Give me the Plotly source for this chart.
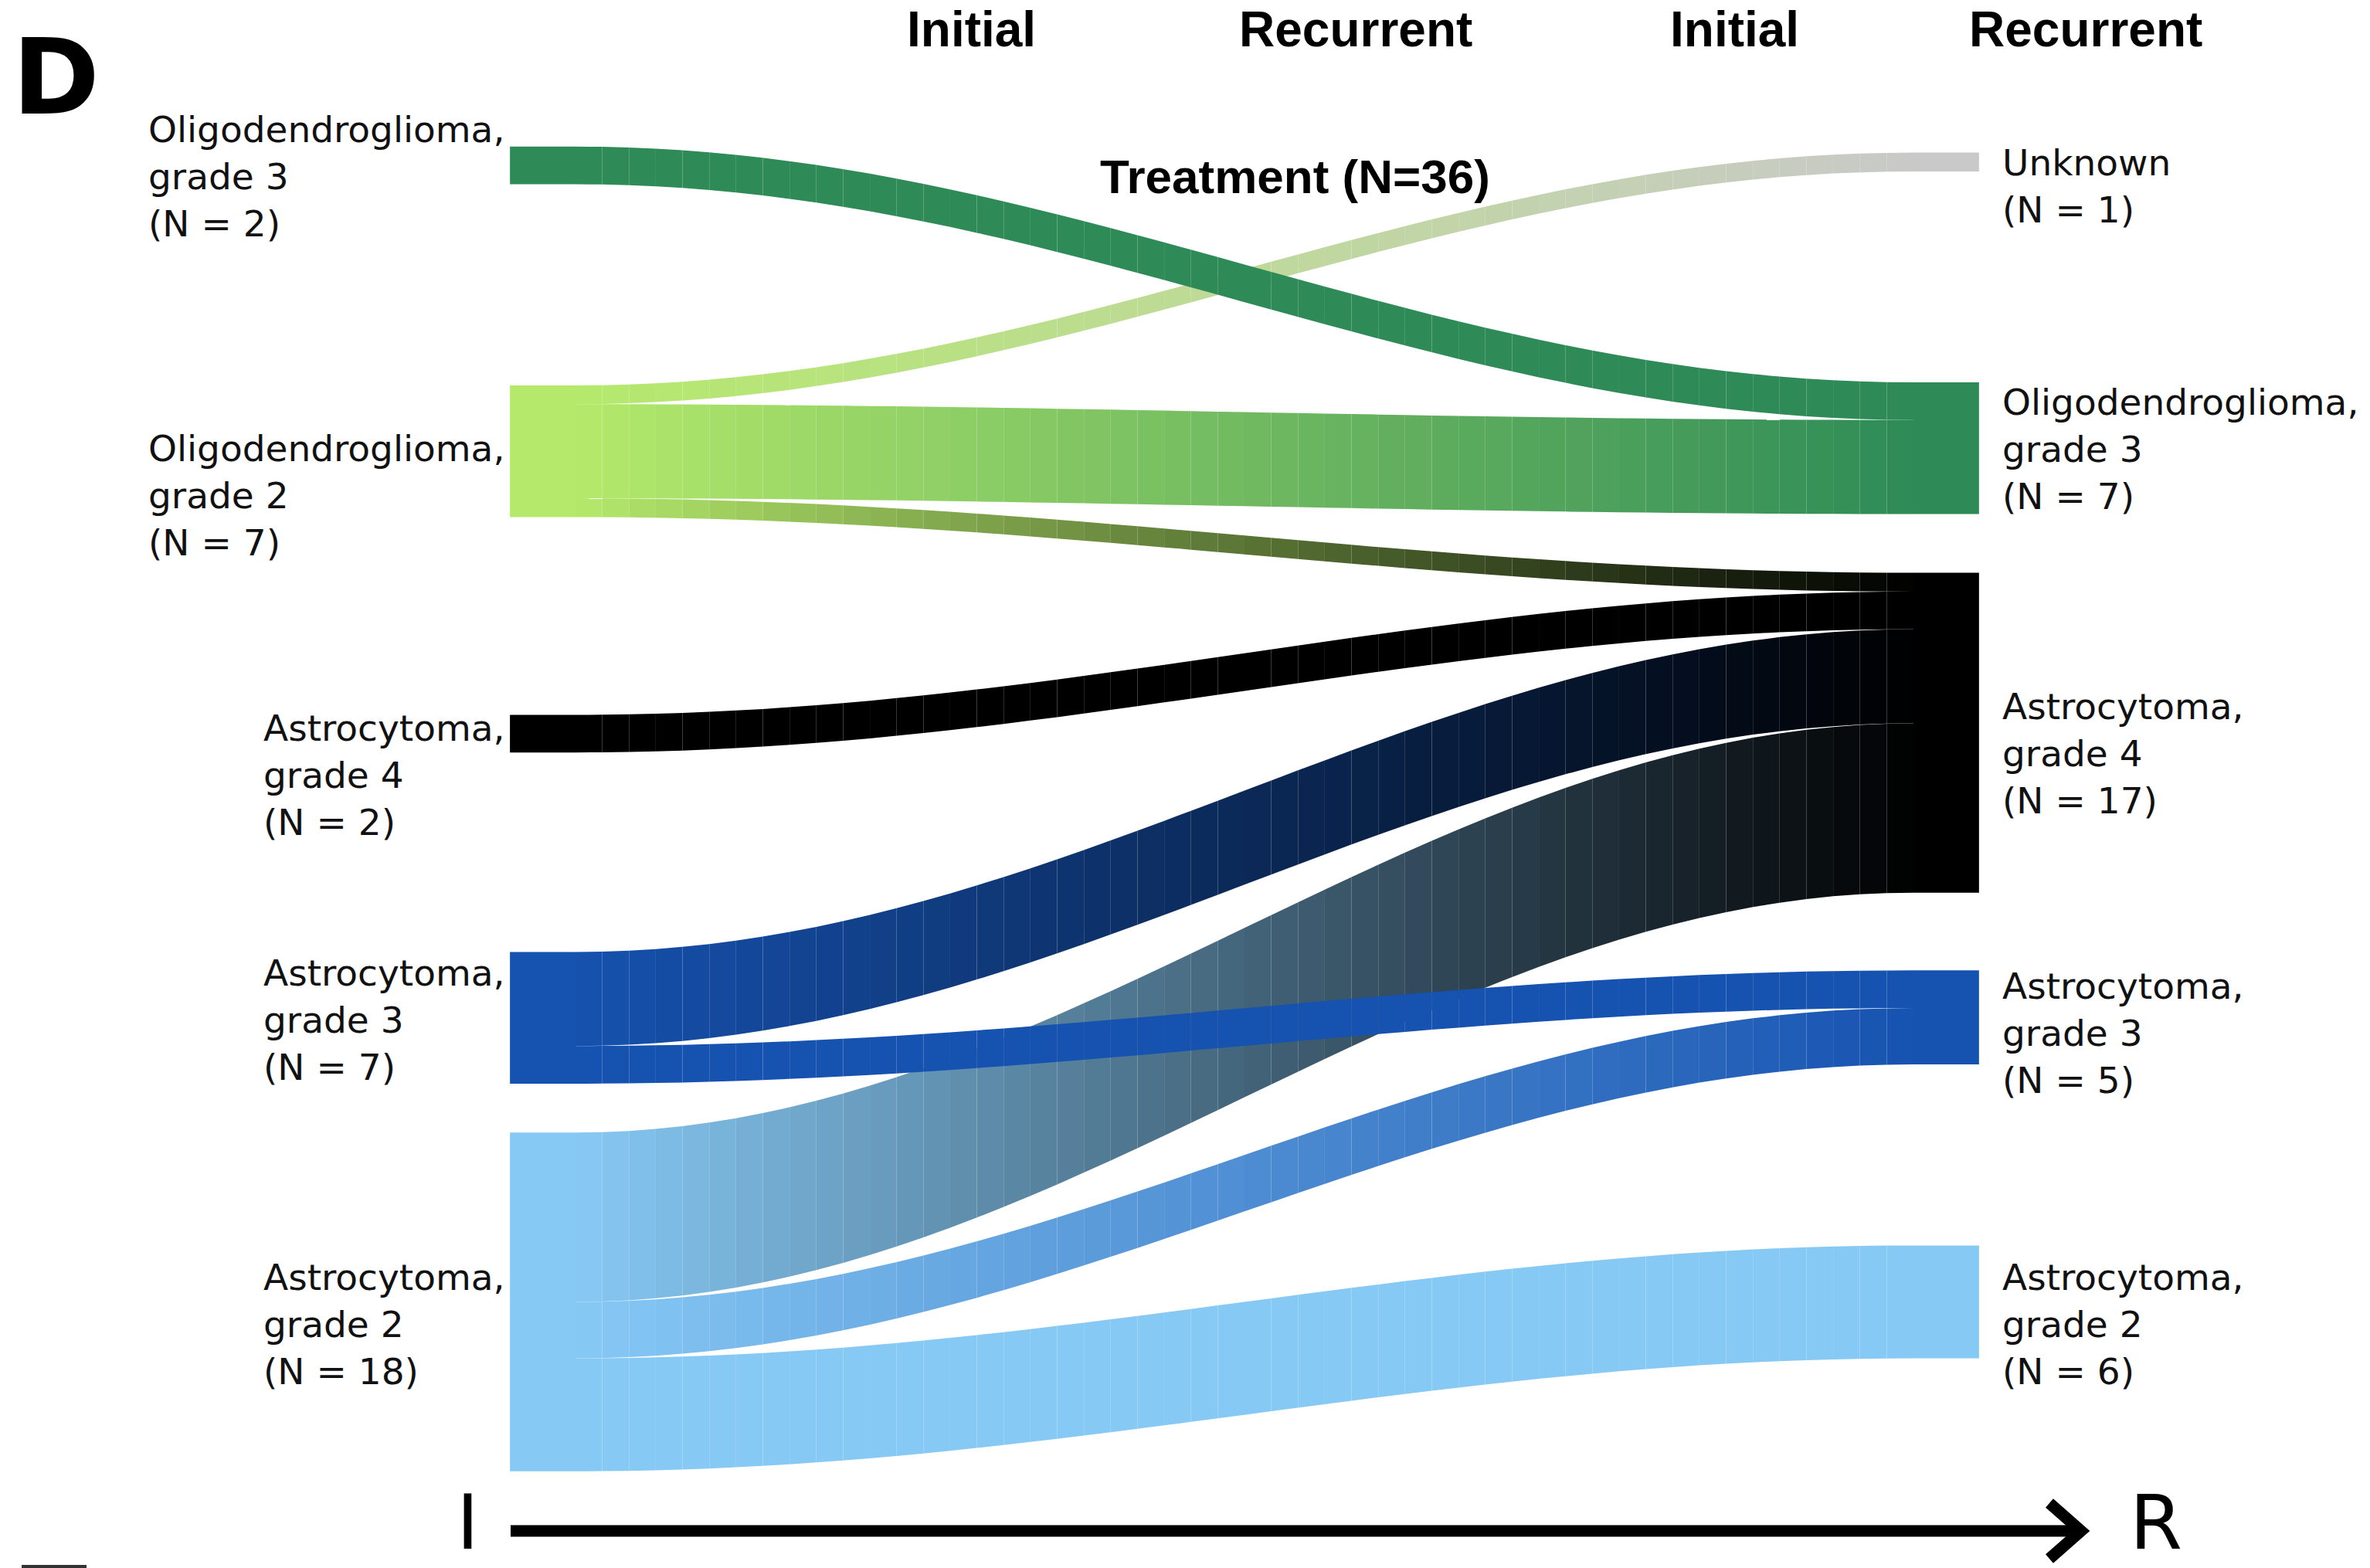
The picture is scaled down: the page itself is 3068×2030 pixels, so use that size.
import numpy as np
import plotly.graph_objects as go

# ---- data -----------------------------------------------------------------
INITIAL = ["Oligodendroglioma, grade 3", "Oligodendroglioma, grade 2",
           "Astrocytoma, grade 4", "Astrocytoma, grade 3", "Astrocytoma, grade 2"]
RECURRENT = ["Unknown", "Oligodendroglioma, grade 3", "Astrocytoma, grade 4",
             "Astrocytoma, grade 3", "Astrocytoma, grade 2"]

FLOW_FROM = ["Oligodendroglioma, grade 3",
             "Oligodendroglioma, grade 2", "Oligodendroglioma, grade 2", "Oligodendroglioma, grade 2",
             "Astrocytoma, grade 4",
             "Astrocytoma, grade 3", "Astrocytoma, grade 3",
             "Astrocytoma, grade 2", "Astrocytoma, grade 2", "Astrocytoma, grade 2"]
FLOW_TO = ["Oligodendroglioma, grade 3",
           "Unknown", "Oligodendroglioma, grade 3", "Astrocytoma, grade 4",
           "Astrocytoma, grade 4",
           "Astrocytoma, grade 4", "Astrocytoma, grade 3",
           "Astrocytoma, grade 4", "Astrocytoma, grade 3", "Astrocytoma, grade 2"]
FLOW_N = [2, 1, 5, 1, 2, 5, 2, 9, 3, 6]

HEADERS = ["Initial", "Recurrent", "Initial", "Recurrent"]

# ---- styling / layout -------------------------------------------------------
COLOR = {
    "Oligodendroglioma, grade 3": "#2e8b57",
    "Oligodendroglioma, grade 2": "#b4e96b",
    "Astrocytoma, grade 4": "#000000",
    "Astrocytoma, grade 3": "#1652b0",
    "Astrocytoma, grade 2": "#87c9f5",
    "Unknown": "#c9c9c9",
}
GAP_LEFT = [0.0, 10.69, 10.51, 10.60, 2.60]     # empty space above each node (count units)
GAP_RIGHT = [0.32, 11.21, 3.12, 4.13, 9.62]
LABEL_SHIFT_LEFT = [0.57, 2.36, 2.2, 0.1, 1.2]
LABEL_SHIFT_RIGHT = [1.27, 0.03, 1.1, 0.82, 1.2]
NODE_W = 0.049
N_SLICES = 50

W, H = 3068, 2030


def px(x):
    return x / W


def py(y):
    return 1 - y / H


def rgb(h):
    h = h.lstrip("#")
    return np.array([int(h[i:i + 2], 16) for i in (0, 2, 4)], dtype=float)


def mix(c0, c1, f):
    c = rgb(c0) * (1 - f) + rgb(c1) * f
    return "rgb(%d,%d,%d)" % tuple(np.round(c).astype(int))


def totals(names, key):
    return {n: sum(v for k, v in zip(key, FLOW_N) if k == n) for n in names}


tot_left = totals(INITIAL, FLOW_FROM)
tot_right = totals(RECURRENT, FLOW_TO)


def stack(names, gaps, tot):
    tops, y = {}, 0.0
    for n, g in zip(names, gaps):
        y += g
        tops[n] = y
        y += tot[n]
    return tops


top_left = stack(INITIAL, GAP_LEFT, tot_left)
top_right = stack(RECURRENT, GAP_RIGHT, tot_right)

# vertical offsets of each flow inside its source / target node
flow_y0, flow_y1 = {}, {}
for s in INITIAL:
    y = top_left[s]
    for t in RECURRENT:
        for k, (a, b) in enumerate(zip(FLOW_FROM, FLOW_TO)):
            if a == s and b == t:
                flow_y0[k] = y
                y += FLOW_N[k]
for t in RECURRENT:
    y = top_right[t]
    for s in INITIAL:
        for k, (a, b) in enumerate(zip(FLOW_FROM, FLOW_TO)):
            if a == s and b == t:
                flow_y1[k] = y
                y += FLOW_N[k]

fig = go.Figure()

# flows: painted from the bottom source upward so upper bands sit on top
order = sorted(range(len(FLOW_N)),
               key=lambda k: (-INITIAL.index(FLOW_FROM[k]), -RECURRENT.index(FLOW_TO[k])))
edges = np.linspace(0, 1, N_SLICES + 1)
for k in order:
    y0, y1, n = flow_y0[k], flow_y1[k], FLOW_N[k]
    c0, c1 = COLOR[FLOW_FROM[k]], COLOR[FLOW_TO[k]]
    for i in range(N_SLICES):
        xs = np.linspace(edges[i], edges[i + 1], 4)
        s = (1 - np.cos(np.pi * xs)) / 2
        top = y0 + (y1 - y0) * s
        bot = top + n
        fig.add_trace(go.Scatter(
            x=np.concatenate([xs, xs[::-1]]),
            y=np.concatenate([top, bot[::-1]]),
            fill="toself", mode="lines", line=dict(width=0),
            fillcolor=mix(c0, c1, (i + 0.5) / N_SLICES),
            hoverinfo="skip", showlegend=False))


def node_rect(x0, x1, y0, h, color):
    fig.add_trace(go.Scatter(
        x=[x0, x1, x1, x0, x0], y=[y0, y0, y0 + h, y0 + h, y0],
        fill="toself", mode="lines", line=dict(width=0),
        fillcolor=color, hoverinfo="skip", showlegend=False))


label_font = dict(family="DejaVu Sans", size=47, color="#111111")
for n, sh in zip(INITIAL, LABEL_SHIFT_LEFT):
    node_rect(-NODE_W, 0, top_left[n], tot_left[n], COLOR[n])
    name, grade = n.split(", ")
    fig.add_annotation(x=-0.052, y=top_left[n] + tot_left[n] / 2 + sh, xref="x", yref="y",
                       text=f"{name},<br>{grade}<br>(N = {tot_left[n]})",
                       showarrow=False, xanchor="right", yanchor="middle", align="left",
                       font=label_font)
for n, sh in zip(RECURRENT, LABEL_SHIFT_RIGHT):
    node_rect(1, 1 + NODE_W, top_right[n], tot_right[n], COLOR[n])
    parts = n.split(", ")
    txt = f"{parts[0]},<br>{parts[1]}" if len(parts) > 1 else parts[0]
    fig.add_annotation(x=1.065, y=top_right[n] + tot_right[n] / 2 + sh, xref="x", yref="y",
                       text=f"{txt}<br>(N = {tot_right[n]})",
                       showarrow=False, xanchor="left", yanchor="middle", align="left",
                       font=label_font)

# column headers, title and panel letter
bold = dict(family="Liberation Sans", size=64, color="black", weight="bold")
for h, xc in zip(HEADERS, [1257, 1755, 2245, 2700]):
    fig.add_annotation(x=px(xc), y=1.0, xref="paper", yref="paper", text=h,
                       showarrow=False, xanchor="center", yanchor="top", font=bold)
fig.add_annotation(x=px(1676), y=py(228), xref="paper", yref="paper",
                   text=f"Treatment (N={sum(FLOW_N)})", showarrow=False,
                   xanchor="center", yanchor="middle",
                   font=dict(family="Liberation Sans", size=62, color="black", weight="bold"))
fig.add_annotation(x=px(72), y=py(100), xref="paper", yref="paper", text="D",
                   showarrow=False, xanchor="center", yanchor="middle",
                   font=dict(family="DejaVu Sans", size=136, color="black", weight="bold"))

# time arrow I -> R
fig.add_shape(type="line", xref="paper", yref="paper",
              x0=px(661), x1=px(2688), y0=py(1982), y1=py(1982),
              line=dict(color="black", width=15))
fig.add_shape(type="path", xref="paper", yref="paper",
              path=f"M {px(2653)},{py(1946)} L {px(2694)},{py(1982)} L {px(2653)},{py(2018)}",
              line=dict(color="black", width=15))
for t, xc in (("I", 605), ("R", 2791)):
    fig.add_annotation(x=px(xc), y=0.0, xref="paper", yref="paper", text=t,
                       showarrow=False, xanchor="center", yanchor="bottom",
                       font=dict(family="DejaVu Sans", size=98, color="black"))
fig.add_shape(type="rect", xref="paper", yref="paper",
              x0=px(28), x1=px(112), y0=py(2030), y1=py(2026),
              line=dict(width=0), fillcolor="#333333")

fig.update_layout(
    width=W, height=H, autosize=False,
    margin=dict(l=0, r=0, t=0, b=0),
    paper_bgcolor="white", plot_bgcolor="white",
    showlegend=False,
    xaxis=dict(visible=False, range=[-745 / 1732, (W - 745) / 1732], fixedrange=True),
    yaxis=dict(visible=False, range=[(H - 189.8) / 24.36, -189.8 / 24.36], fixedrange=True),
)

fig.write_html("out.html")
